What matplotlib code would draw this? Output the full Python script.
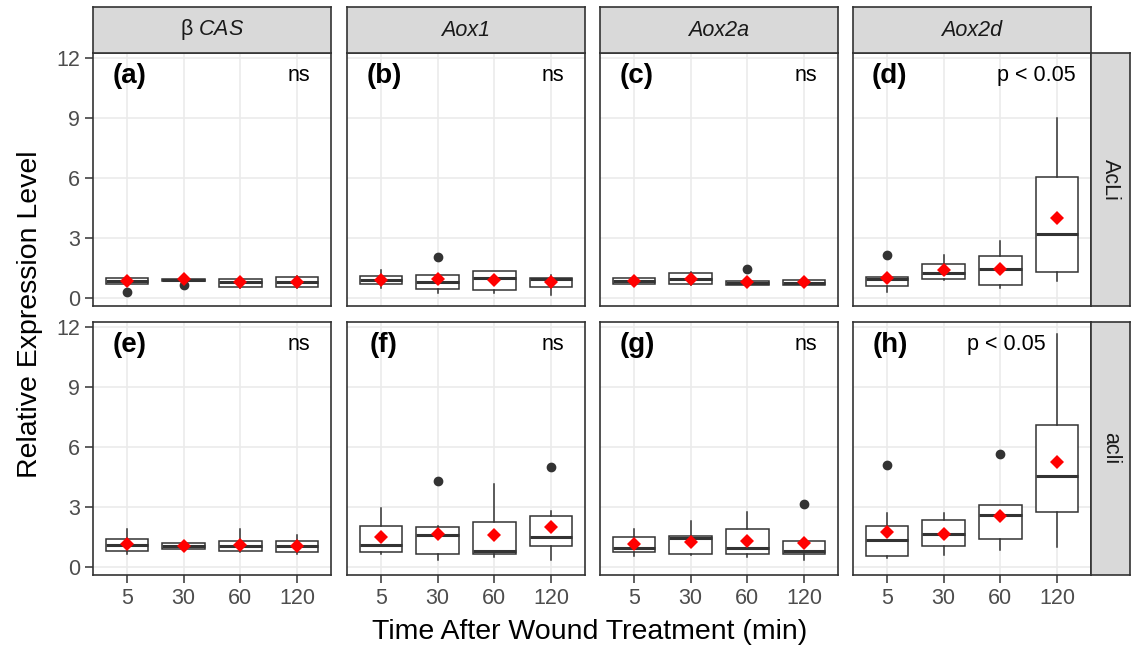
import numpy as np
import matplotlib
matplotlib.use("Agg")
import matplotlib.pyplot as plt

plt.rcParams['font.family'] = ['Liberation Sans', 'DejaVu Sans']
plt.rcParams['mathtext.fontset'] = 'custom'
plt.rcParams['mathtext.rm'] = 'Liberation Sans'
plt.rcParams['mathtext.it'] = 'Liberation Sans:italic'

# time points and facet labels
times = ['5', '30', '60', '120']
genes = [r'β $\mathit{CAS}$', 'Aox1', 'Aox2a', 'Aox2d']
gene_style = ['normal', 'italic', 'italic', 'italic']
lines = ['AcLi', 'acli']
letters = ['(a)', '(b)', '(c)', '(d)', '(e)', '(f)', '(g)', '(h)']
signif = ['ns', 'ns', 'ns', 'p < 0.05', 'ns', 'ns', 'ns', 'p < 0.05']
signif_x = [4.03, 4.03, 4.03, 3.64, 4.03, 4.03, 4.03, 3.1]

# box statistics, one row per panel (a..h), one column per time point
q1 = [[0.70, 0.84, 0.54, 0.54],
      [0.67, 0.42, 0.36, 0.55],
      [0.67, 0.67, 0.65, 0.65],
      [0.59, 0.92, 0.62, 1.29],
      [0.79, 0.88, 0.76, 0.74],
      [0.74, 0.65, 0.63, 1.02],
      [0.72, 0.62, 0.62, 0.62],
      [0.55, 1.05, 1.38, 2.75]]
med = [[0.84, 0.90, 0.77, 0.79],
       [0.87, 0.79, 0.98, 0.91],
       [0.85, 0.95, 0.72, 0.75],
       [0.92, 1.26, 1.43, 3.18],
       [1.09, 1.04, 1.04, 1.01],
       [1.07, 1.60, 0.77, 1.47],
       [0.92, 1.42, 0.92, 0.80],
       [1.33, 1.65, 2.57, 4.53]]
q3 = [[1.00, 0.95, 0.95, 1.04],
      [1.08, 1.12, 1.33, 0.98],
      [1.00, 1.24, 0.84, 0.87],
      [1.01, 1.71, 2.08, 6.07],
      [1.41, 1.21, 1.29, 1.29],
      [2.05, 1.97, 2.23, 2.52],
      [1.50, 1.53, 1.87, 1.30],
      [2.05, 2.32, 3.07, 7.12]]
whislo = [[0.65, 0.82, 0.50, 0.50],
          [0.47, 0.25, 0.23, 0.15],
          [0.62, 0.62, 0.60, 0.60],
          [0.28, 0.88, 0.50, 0.84],
          [0.63, 0.83, 0.71, 0.63],
          [0.65, 0.35, 0.48, 0.35],
          [0.55, 0.57, 0.50, 0.33],
          [0.42, 0.57, 0.83, 0.97]]
whishi = [[1.05, 0.97, 0.98, 1.08],
          [1.40, 1.15, 1.36, 1.14],
          [1.05, 1.28, 0.88, 0.90],
          [1.05, 2.15, 2.85, 9.03],
          [1.91, 1.25, 1.91, 1.57],
          [2.94, 2.05, 4.13, 2.80],
          [1.89, 2.27, 2.72, 1.35],
          [2.67, 2.67, 3.10, 11.67]]
means = [[0.85, 0.92, 0.77, 0.79],
         [0.87, 0.92, 0.87, 0.77],
         [0.85, 0.95, 0.79, 0.77],
         [0.96, 1.38, 1.46, 3.98],
         [1.12, 1.04, 1.10, 1.03],
         [1.47, 1.63, 1.60, 1.97],
         [1.12, 1.25, 1.30, 1.17],
         [1.73, 1.65, 2.55, 5.24]]
outliers = [[[0.29], [0.62], [], []],
            [[], [2.02], [], []],
            [[], [], [1.42], []],
            [[2.15], [], [], []],
            [[], [], [], []],
            [[], [4.30], [], [5.02]],
            [[], [], [], [3.12]],
            [[5.08], [], [5.63], []]]

W, H = 1131, 647
fig = plt.figure(figsize=(W / 100, H / 100), dpi=100)

def px_axes(x0, y0, x1, y1, **kw):
    return fig.add_axes([x0 / W, 1 - y1 / H, (x1 - x0) / W, (y1 - y0) / H], **kw)

dark = '#333333'
col_left = [93, 347, 600, 853]
panel_w = 238
row_top = [53, 322]
panel_h = 253

def style_box(ax):
    for s in ax.spines.values():
        s.set_color(dark)
        s.set_linewidth(1.2)

for r in range(2):
    for c in range(4):
        p = r * 4 + c
        x0 = col_left[c]
        y0 = row_top[r]
        ax = px_axes(x0, y0, x0 + panel_w, y0 + panel_h)
        stats = []
        for i in range(4):
            stats.append(dict(q1=q1[p][i], med=med[p][i], q3=q3[p][i],
                              whislo=whislo[p][i], whishi=whishi[p][i],
                              fliers=outliers[p][i]))
        pos = np.arange(1, 5)
        ax.bxp(stats, positions=pos, widths=0.75, showcaps=False,
               patch_artist=True, manage_ticks=False,
               boxprops=dict(facecolor='white', edgecolor=dark, linewidth=1.1),
               whiskerprops=dict(color=dark, linewidth=1.1),
               medianprops=dict(color=dark, linewidth=2.2),
               flierprops=dict(marker='o', markerfacecolor=dark,
                               markeredgecolor=dark, markersize=6))
        ax.plot(pos, means[p], linestyle='none', marker='D', color='red',
                markersize=6.8, markeredgewidth=0, zorder=5)

        ax.set_xlim(0.4, 4.6)
        ax.set_ylim(-0.42, 12.27)
        ax.set_xticks(pos)
        ax.set_yticks([0, 3, 6, 9, 12])
        ax.grid(True, color='#EBEBEB', linewidth=1.2)
        ax.set_axisbelow(True)
        style_box(ax)
        ax.tick_params(colors=dark, length=5.5, width=1.1,
                       labelsize=15.5, labelcolor='#4D4D4D', pad=4)
        if c == 0:
            ax.set_yticklabels(['0', '3', '6', '9', '12'])
        else:
            ax.tick_params(axis='y', length=0, labelleft=False)
        if r == 1:
            ax.set_xticklabels(times)
        else:
            ax.tick_params(axis='x', length=0, labelbottom=False)

        ax.text(1.05, 10.76, letters[p], ha='center', va='baseline',
                fontsize=20, fontweight='bold')
        ax.text(signif_x[p], 10.88, signif[p], ha='center', va='baseline',
                fontsize=15.5)

# gene strips along the top
for c in range(4):
    sax = px_axes(col_left[c], 7, col_left[c] + panel_w, 53)
    sax.set_facecolor('#D9D9D9')
    sax.set_xticks([])
    sax.set_yticks([])
    style_box(sax)
    sax.text(0.5, 0.5, genes[c], ha='center', va='center', fontsize=15.5,
             fontstyle=gene_style[c], color='#1A1A1A', transform=sax.transAxes)

# line strips on the right
for r in range(2):
    sax = px_axes(1091, row_top[r], 1130, row_top[r] + panel_h)
    sax.set_facecolor('#D9D9D9')
    sax.set_xticks([])
    sax.set_yticks([])
    style_box(sax)
    sax.text(0.5, 0.5, lines[r], ha='center', va='center', fontsize=15.5,
             rotation=-90, color='#1A1A1A', transform=sax.transAxes)

fig.text(590 / W, 1 - 632 / H, 'Time After Wound Treatment (min)',
         ha='center', va='center', fontsize=20.5)
fig.text(30 / W, 1 - 314 / H, 'Relative Expression Level', ha='center',
         va='center', rotation=90, fontsize=20.5)

fig.savefig('out.png', dpi=100)
